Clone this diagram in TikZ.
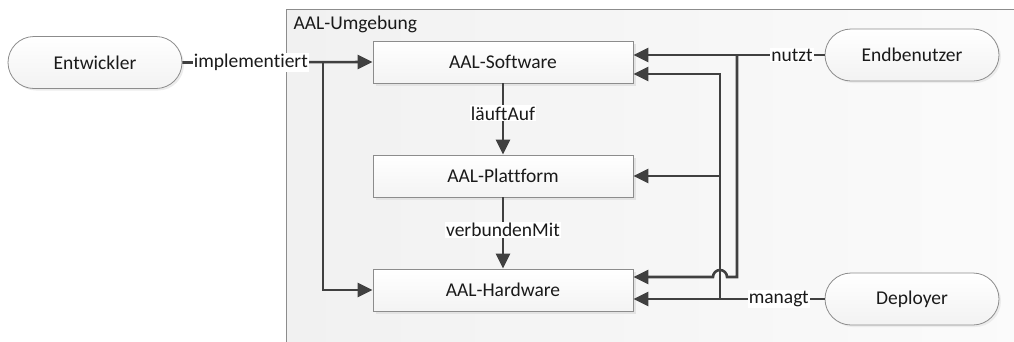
\documentclass[tikz,border=0pt]{standalone}
\usepackage{fontspec}
\setmainfont{Carlito}[Ligatures={NoCommon}]
\usetikzlibrary{arrows.meta,shadows,calc}
\definecolor{ln}{HTML}{404040}
\definecolor{bd}{HTML}{8C8C8C}
\definecolor{tx}{HTML}{1A1A1A}
\begin{document}
\begin{tikzpicture}[x=1pt,y=-1pt,
  font=\fontsize{19.5}{22}\selectfont, text=tx,
  envbox/.style={draw=bd, line width=0.8pt, left color=gray!11, right color=gray!3, anchor=north west, minimum width=760pt, minimum height=360pt, inner sep=0pt},
  box/.style={draw=bd, line width=0.8pt, top color=white, bottom color=gray!9, minimum width=260pt, minimum height=42pt, inner sep=0pt,
    drop shadow={shadow xshift=3pt, shadow yshift=-3pt, fill=gray!22, opacity=1}},
  pill/.style={draw=bd, line width=0.8pt, top color=white, bottom color=gray!10, rounded corners=26pt, minimum width=174pt, minimum height=52pt, inner sep=0pt,
    drop shadow={shadow xshift=2pt, shadow yshift=-2pt, fill=gray!15, opacity=1}},
  conn/.style={draw=ln, line width=2.6pt, -{Triangle[length=15pt,width=14pt]}},
  lbl/.style={fill=white, inner sep=1pt, text=tx}
]
\useasboundingbox (0,0) rectangle (1014,341);
\node[envbox] (env) at (286,9) {};
\node[anchor=west] (envlbl) at (290,24) {AAL-Umgebung};

\node[pill] (entw) at (95,62.5) {Entwickler};
\node[pill] (endb) at (912,55) {Endbenutzer};
\node[pill] (depl) at (912,299) {Deployer};

\node[box] (sw) at (503,62) {AAL-Software};
\node[box] (pf) at (503,176) {AAL-Plattform};
\node[box] (hw) at (503,290) {AAL-Hardware};

\coordinate (j0) at (323,62);
\coordinate (a1) at (737,55);
\coordinate (a2) at (737,277);
\coordinate (b1) at (720,299);
\coordinate (b2) at (720,74);

% implementiert
\draw[conn] (entw.east) -- node[lbl,pos=0.36]{implementiert} (sw.west);
\draw[conn] (j0) |- (hw.west);

% vertical chain
\draw[conn] (sw.south) -- node[lbl,pos=0.42]{läuftAuf} (pf.north);
\draw[conn] (pf.south) -- node[lbl,pos=0.46]{verbundenMit} (hw.north);

% nutzt
\draw[conn] (endb.west) -- node[lbl,pos=0.17]{nutzt} (sw.east |- endb.west);
\draw[conn] (a1) -- (a2) -- (727,277) arc[start angle=0, end angle=-180, radius=7] -- (hw.east |- a2);

% managt
\draw[conn] (depl.west) -- node[lbl,pos=0.24]{managt} (hw.east |- depl.west);
\draw[conn] (b1) |- (sw.east |- b2);
\draw[conn] (b1 |- pf.east) -- (pf.east);
\end{tikzpicture}
\end{document}
